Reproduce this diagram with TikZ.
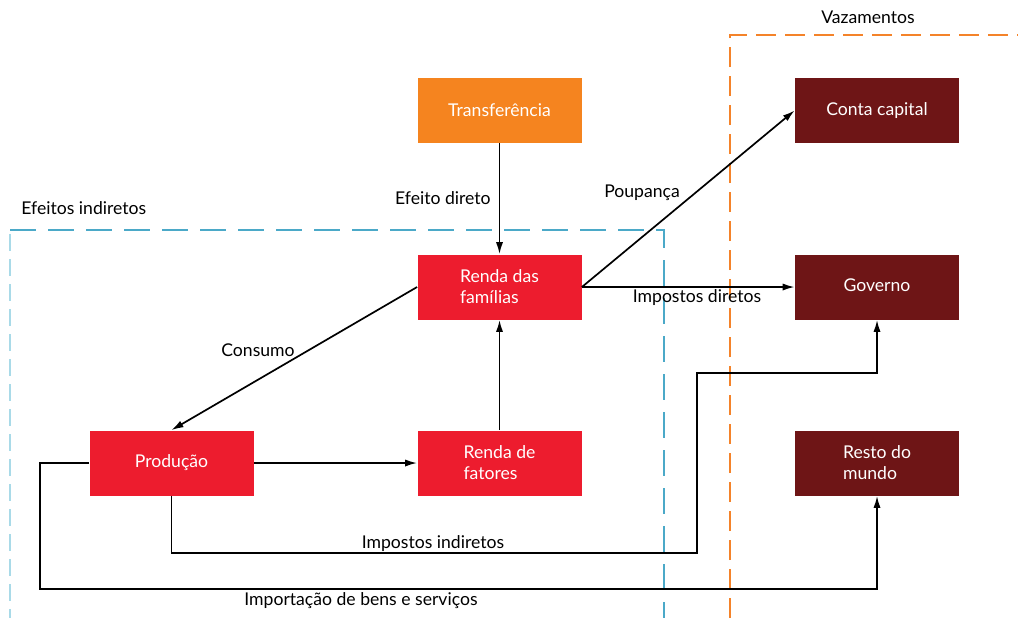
\documentclass[tikz,border=0pt]{standalone}
\usepackage{fontspec}
\setmainfont{Lato}
\usepackage{xcolor}
\usetikzlibrary{positioning, arrows.meta}
\definecolor{laranja}{HTML}{F5841F}
\definecolor{vermelho}{HTML}{ED1C2E}
\definecolor{vinho}{HTML}{6E1516}
\definecolor{azul}{HTML}{4BA9C8}
\definecolor{azulclaro}{HTML}{A9DAE8}
\definecolor{laranjatr}{HTML}{F4832A}

\begin{document}
\begin{tikzpicture}[x=0.5pt,y=-0.5pt,font=\fontsize{8.8}{10.5}\selectfont,
  caixa/.style={minimum width=82pt,minimum height=32.5pt,inner sep=0pt,text=white,align=left},
  seta/.style={-{Latex[length=6pt,width=3.6pt]},line width=0.85pt},
  rotulo/.style={inner sep=1pt}]
\useasboundingbox (0,0) rectangle (1018,618);

% regioes tracejadas
\draw[azul,line width=0.9pt,dash pattern=on 13pt off 6pt] (10,230) -- (664,230) -- (664,618);
\draw[azulclaro,line width=0.6pt,dash pattern=on 8.5pt off 4pt] (10,234) -- (10,618);
\draw[laranjatr,line width=0.9pt,dash pattern=on 10pt off 4.5pt] (730,618) -- (730,35) -- (1018,35);
\node[rotulo] (vaz) at (868,17) {Vazamentos};
\node[rotulo,anchor=west] (efind) at (19,208) {Efeitos indiretos};

% caixas
\node[caixa,fill=laranja] (transf) at (499.5,110.5) {Transferência};
\node[caixa,fill=vermelho] (rfam) at (499.5,287) {Renda das\\famílias};
\node[caixa,fill=vermelho] (prod) at (171.5,463) {Produção};
\node[caixa,fill=vermelho] (rfat) at (499.5,463) {Renda de\\fatores};
\node[caixa,fill=vinho] (cap) at (877,110.5) {Conta capital};
\node[caixa,fill=vinho] (gov) at (877,287) {\raisebox{2pt}{Governo}};
\node[caixa,fill=vinho] (resto) at (877,463) {Resto do\\mundo};

% pontos de dobra
\coordinate (ii1) at (697,553);
\coordinate (ii2) at (697,373);
\coordinate (imp) at (40,589);

% conexoes
\draw[seta] (transf) -- (rfam);
\draw[seta] (rfam.west) -- (prod.north);
\draw[seta] (rfam.east) -- (cap.west);
\draw[seta] (rfam.east) -- (gov.west);
\draw[seta] (rfat) -- (rfam);
\draw[seta] (prod) -- (rfat);
\draw[seta] (prod.south) |- (ii1) -- (ii2) -| (gov.south);
\draw[seta] (prod.west) -| (imp) -| (resto.south);

% rotulos
\node[rotulo,anchor=east] (efdir) at (493,198) {Efeito direto};
\node[rotulo] (cons) at (258,350) {Consumo};
\node[rotulo] (poup) at (642,193) {Poupança};
\node[rotulo] (impdir) at (697,298) {Impostos diretos};
\node[rotulo] (impind) at (433,544) {Impostos indiretos};
\node[rotulo] (import) at (361,601) {Importação de bens e serviços};
\end{tikzpicture}
\end{document}
